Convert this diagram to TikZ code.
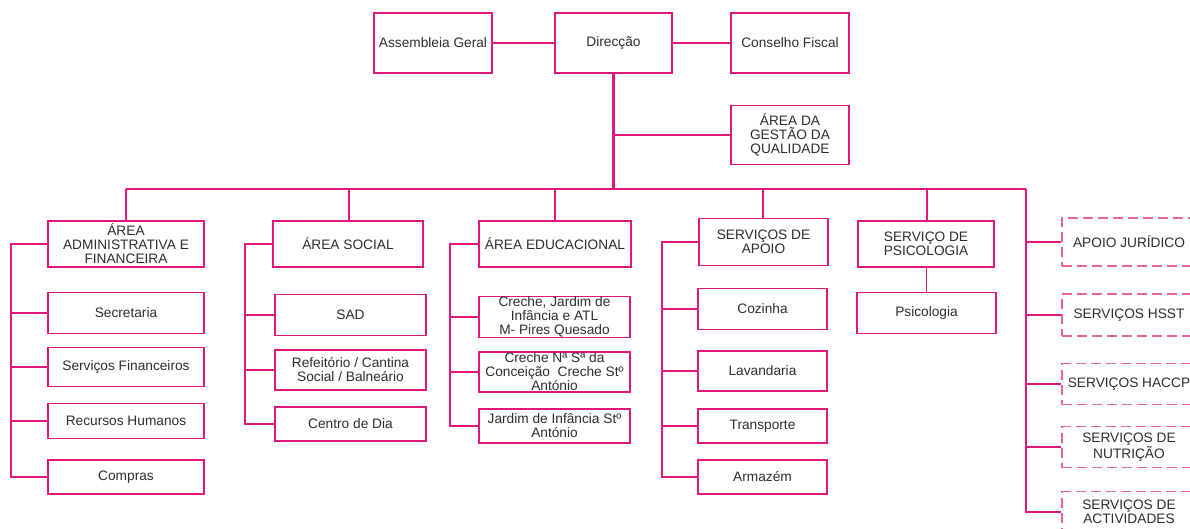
\documentclass[tikz,border=0pt]{standalone}
\usepackage{fontspec}
\setmainfont{Liberation Sans}
\definecolor{pk}{RGB}{224,22,122}
\definecolor{pkl}{RGB}{232,100,160}
\definecolor{tx}{RGB}{45,45,45}
\begin{document}
\begin{tikzpicture}[x=1pt,y=-1pt,
  box/.style={draw=pk,line width=1.4pt,inner sep=0pt,align=center,text=tx,
    font=\fontsize{13.7}{14}\selectfont},
  dbox/.style={box,draw=pkl,dash pattern=on 10pt off 5pt},
  ln/.style={draw=pk,line width=1.4pt},
  thk/.style={draw=pk,line width=2.2pt}]
\useasboundingbox (0,0) rectangle (1190,529);
\clip (0,0) rectangle (1190,529);
% top row
\node[box,minimum width=118pt,minimum height=60pt] (ag) at (433,43) {Assembleia Geral};
\node[box,minimum width=117pt,minimum height=60pt] (dir) at (613.5,43) {Direcção};
\node[box,minimum width=118pt,minimum height=60pt] (cf) at (790,43) {Conselho Fiscal};
\node[box,minimum width=118pt,minimum height=59pt] (gq) at (790,135) {ÁREA DA\\GESTÃO DA\\QUALIDADE};
% level 2
\node[box,minimum width=156pt,minimum height=46pt] (adm) at (126,244) {ÁREA\\ADMINISTRATIVA E\\FINANCEIRA};
\node[box,minimum width=150pt,minimum height=46pt] (soc) at (348,244) {ÁREA SOCIAL};
\node[box,minimum width=152pt,minimum height=46pt] (edu) at (555,244) {ÁREA EDUCACIONAL};
\node[box,minimum width=129pt,minimum height=47pt] (apo) at (763.5,242) {SERVIÇOS DE\\APOIO};
\node[box,minimum width=136pt,minimum height=46pt] (psi) at (926,244) {SERVIÇO DE\\PSICOLOGIA};
% admin children
\node[box,minimum width=156pt,minimum height=41pt] (sec) at (126,313) {Secretaria};
\node[box,minimum width=156pt,minimum height=39pt] (fin) at (126,367) {Serviços Financeiros};
\node[box,minimum width=156pt,minimum height=35pt] (rh) at (126,421) {Recursos Humanos};
\node[box,minimum width=156pt,minimum height=34pt] (comp) at (126,477) {Compras};
% social children
\node[box,minimum width=151pt,minimum height=41pt] (sad) at (350.5,315) {SAD};
\node[box,minimum width=151pt,minimum height=40pt] (ref) at (350.5,370) {Refeitório / Cantina\\Social / Balneário};
\node[box,minimum width=151pt,minimum height=34pt] (cd) at (350.5,424) {Centro de Dia};
% edu children
\node[box,minimum width=151pt,minimum height=41pt] (cr1) at (554.5,317) {Creche, Jardim de\\Infância e ATL\\M- Pires Quesado};
\node[box,minimum width=151pt,minimum height=40pt] (cr2) at (554.5,372) {Creche Nª Sª da\\Conceição\ \ Creche Stº\\António};
\node[box,minimum width=151pt,minimum height=34pt] (jd) at (554.5,426) {Jardim de Infância Stº\\António};
% apoio children
\node[box,minimum width=129pt,minimum height=41pt] (coz) at (762.5,309) {Cozinha};
\node[box,minimum width=129pt,minimum height=40pt] (lav) at (762.5,371) {Lavandaria};
\node[box,minimum width=129pt,minimum height=34pt] (tra) at (762.5,426) {Transporte};
\node[box,minimum width=129pt,minimum height=34pt] (arm) at (762.5,477) {Armazém};
% psicologia child
\node[box,minimum width=139pt,minimum height=41pt] (psc) at (926.5,313) {Psicologia};
% dashed
\node[dbox,minimum width=134pt,minimum height=48pt] (jur) at (1129,242) {APOIO JURÍDICO};
\node[dbox,minimum width=134pt,minimum height=42pt] (hsst) at (1129,315) {SERVIÇOS HSST};
\node[dbox,minimum width=134pt,minimum height=41pt] (hac) at (1129,384) {SERVIÇOS HACCP};
\node[dbox,minimum width=134pt,minimum height=41pt] (nut) at (1129,447) {SERVIÇOS DE\\NUTRIÇÃO};
\node[dbox,minimum width=134pt,minimum height=41pt] (act) at (1129,512) {SERVIÇOS DE\\ACTIVIDADES};
% coordinates
\coordinate (bus) at (613.5,189);
\coordinate (busL) at (126,189);
\coordinate (busR) at (1026,189);
\coordinate (admsp) at (11,244);
\coordinate (socsp) at (245,244);
\coordinate (edusp) at (450,244);
\coordinate (aposp) at (662,242);
% top connectors
\draw[ln] (ag.east) -- (dir.west);
\draw[ln] (dir.east) -- (cf.west);
\draw[thk] (dir.south) -- (bus);
\draw[ln] (dir.south |- gq.west) -- (gq.west);
\draw[ln] (busL) -- (bus);
\draw[thk] (bus) -- (busR);
\draw[ln] (busR) |- (act.west);
\foreach \n in {jur,hsst,hac,nut} \draw[ln] (busR |- \n.west) -- (\n.west);
% drops
\draw[ln] (busL) -- (adm.north);
\draw[ln] (busL -| 349,0) -- (349,221);
\draw[ln] (edu.north) -- (edu.north |- bus);
\draw[ln] (apo.north -| 763,0) ++(0,0) (763,219) -- (763,189);
\draw[ln] (psi.north -| 927,0) ++(0,0) (927,221) -- (927,189);
\draw[ln] (psi.south -| psc.north) -- (psc.north);
% spines
\draw[ln] (adm.west) -- (admsp) |- (comp.west);
\foreach \n in {sec,fin,rh} \draw[ln] (admsp |- \n.west) -- (\n.west);
\draw[ln] (soc.west) -- (socsp) |- (cd.west);
\foreach \n in {sad,ref} \draw[ln] (socsp |- \n.west) -- (\n.west);
\draw[ln] (edu.west) -- (edusp) |- (jd.west);
\foreach \n in {cr1,cr2} \draw[ln] (edusp |- \n.west) -- (\n.west);
\draw[ln] (apo.west) -- (aposp) |- (arm.west);
\foreach \n in {coz,lav,tra} \draw[ln] (aposp |- \n.west) -- (\n.west);
\end{tikzpicture}
\end{document}
